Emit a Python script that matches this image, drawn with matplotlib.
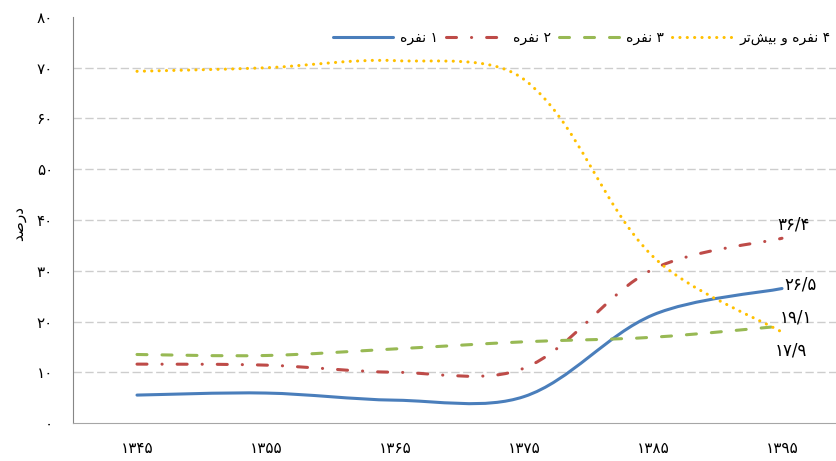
import numpy as np
import matplotlib
matplotlib.use("Agg")
import matplotlib.pyplot as plt
from matplotlib.path import Path
from matplotlib.patches import PathPatch
from matplotlib.lines import Line2D

plt.rcParams['font.family'] = ['DejaVu Sans']
plt.rcParams['lines.scale_dashes'] = False

to_fa = str.maketrans('0123456789', '۰۱۲۳۴۵۶۷۸۹')

years = [1345, 1355, 1365, 1375, 1385, 1395]
one_person = [5.5, 5.9, 4.5, 5.2, 21.3, 26.5]
two_person = [11.6, 11.4, 10.0, 10.8, 30.3, 36.4]
three_person = [13.5, 13.3, 14.6, 16.0, 16.9, 19.1]
four_plus = [69.3, 70.0, 71.4, 67.7, 32.8, 17.9]

# persian words written in presentation forms, visual (left-to-right) order
nafareh = "\uFEE9\uFEAE\uFED4\uFEE7"          # نفره
va = "\uFEED"                                  # و
bishtar = "\uFEAE\uFE97\uFEB6\uFEF4\uFE91"     # بیش‌تر
darsad = "\uFEAA\uFEBB\uFEAD\uFEA9"            # درصد

labels = [nafareh + " ۱", nafareh + " ۲", nafareh + " ۳",
          bishtar + " " + va + " " + nafareh + " ۴"]
colors = ["#4A7EBB", "#BE4B48", "#98B954", "#FFC000"]
dashes = [None, (0, (7.2, 10.8, 0.1, 10.8)), (0, (7.2, 10.8)), (0, (0.1, 5.2))]

fig = plt.figure(figsize=(8.36, 4.61), dpi=100)
ax = fig.add_axes([72.5 / 836, 1 - 423 / 461, 1 - 72.5 / 836, (423 - 17) / 461])

x = np.arange(len(years))
ax.set_xlim(-0.5, (836 - 137) / 129)
ax.set_ylim(0, 80)


def smooth_path(xs, ys):
    # bezier through the points, excel-like smoothing (chord scaled)
    pts = ax.transData.transform(np.column_stack([xs, ys]))
    inv = ax.transData.inverted()
    n = len(pts)
    verts = [pts[0]]
    codes = [Path.MOVETO]
    for i in range(n - 1):
        p0 = pts[max(i - 1, 0)]
        p1 = pts[i]
        p2 = pts[i + 1]
        p3 = pts[min(i + 2, n - 1)]
        d01 = np.linalg.norm(p1 - p0)
        d12 = np.linalg.norm(p2 - p1)
        d23 = np.linalg.norm(p3 - p2)
        f1 = d12 / (d01 + d12) / 3 if d01 > 0 else 1 / 6
        f2 = d12 / (d12 + d23) / 3 if d23 > 0 else 1 / 6
        c1 = p1 + (p2 - p0) * f1
        c2 = p2 - (p3 - p1) * f2
        verts += [c1, c2, p2]
        codes += [Path.CURVE4] * 3
    return Path(inv.transform(np.array(verts)), codes)


series = [one_person, two_person, three_person, four_plus]
handles = []
for vals, c, d, lab in zip(series, colors, dashes, labels):
    ls = '-' if d is None else d
    patch = PathPatch(smooth_path(x, vals), fill=False, edgecolor=c, lw=2.2,
                      linestyle=ls, capstyle='round', joinstyle='round')
    ax.add_patch(patch)
    handles.append(Line2D([], [], color=c, lw=2.2, linestyle=ls,
                          dash_capstyle='round', solid_capstyle='round'))

# end values
end_labels = ["۳۶/۴", "۲۶/۵", "۱۹/۱", "۱۷/۹"]
end_vals = [two_person[-1], one_person[-1], three_person[-1], four_plus[-1]]
offsets = [(8, 10), (13, 3), (10, 6.5), (6.5, -13)]
for t, v, off in zip(end_labels, end_vals, offsets):
    ax.annotate(t, (x[-1], v), xytext=off, textcoords='offset points',
                ha='center', va='center', fontsize=12)

ax.set_xticks(x)
ax.set_xticklabels([str(y).translate(to_fa) for y in years], fontsize=11)
ax.set_yticks(range(0, 81, 10))
ax.set_yticklabels([str(v).translate(to_fa) for v in range(0, 81, 10)], fontsize=11)
ax.tick_params(axis='both', length=0)
ax.tick_params(axis='y', pad=14)
ax.tick_params(axis='x', pad=13)

ax.grid(axis='y', color='#CDCDCD', lw=1, linestyle=(0, (6, 2.5)))
gl = ax.get_ygridlines()
gl[0].set_visible(False)
gl[-1].set_visible(False)
ax.set_axisbelow(True)

for s in ['top', 'right']:
    ax.spines[s].set_visible(False)
ax.spines['left'].set_color('#868686')
ax.spines['bottom'].set_color('#A6A6A6')

fig.text(19 / 836, 1 - 223 / 461, darsad, rotation=90, ha='center', va='center', fontsize=11)

fig.legend(handles, labels, loc='center right', bbox_to_anchor=(0.993, 1 - 38 / 461),
           ncol=4, frameon=False, fontsize=10, handlelength=4.3, handletextpad=0.5,
           columnspacing=0.6, borderpad=0, borderaxespad=0)

fig.savefig("out.png", dpi=100)
